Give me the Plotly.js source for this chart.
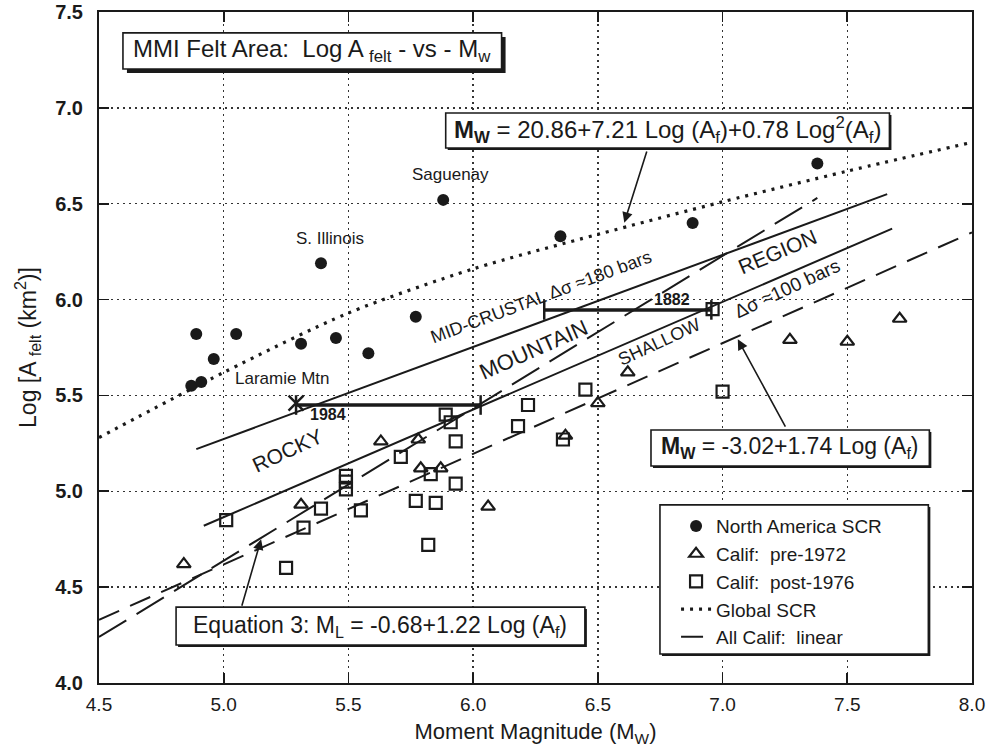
<!DOCTYPE html>
<html>
<head>
<meta charset="utf-8">
<script src="https://cdn.plot.ly/plotly-3.0.1.min.js"></script>
<style>
  html, body { margin: 0; padding: 0; background: #fff; }
  #chart { width: 989px; height: 748px; }
</style>
</head>
<body>
<div id="chart"></div>
<script>
// ---- Felt-area observations (Mw vs Log A_felt, km^2) ----
const naScrMw   = [4.87, 4.91, 4.89, 4.96, 5.05, 5.31, 5.39, 5.45, 5.58, 5.77, 5.88, 6.35, 6.88, 7.38];
const naScrLogA = [5.55, 5.57, 5.82, 5.69, 5.82, 5.77, 6.19, 5.80, 5.72, 5.91, 6.52, 6.33, 6.40, 6.71];

const califPreMw   = [4.84, 5.31, 5.63, 5.78, 5.79, 5.87, 6.06, 6.37, 6.50, 6.62, 7.27, 7.50, 7.71];
const califPreLogA = [4.62, 4.93, 5.26, 5.27, 5.12, 5.12, 4.92, 5.29, 5.46, 5.62, 5.79, 5.78, 5.90];

const califPostMw   = [5.01, 5.25, 5.32, 5.39, 5.49, 5.49, 5.49, 5.55, 5.71, 5.77, 5.82, 5.83, 5.85,
                       5.89, 5.91, 5.93, 5.93, 6.18, 6.22, 6.36, 6.45, 6.96, 7.00];
const califPostLogA = [4.85, 4.60, 4.81, 4.91, 5.08, 5.05, 5.01, 4.90, 5.18, 4.95, 4.72, 5.09, 4.94,
                       5.40, 5.36, 5.26, 5.04, 5.34, 5.45, 5.27, 5.53, 5.95, 5.52];

// ---- Regression curves ----
const globalScrMw   = [4.5, 5.0, 5.5, 6.0, 6.5, 7.0, 7.5, 8.0];
const globalScrLogA = [5.28, 5.62, 5.93, 6.16, 6.34, 6.51, 6.67, 6.82];

const allCalifMw   = [4.5, 8.0];
const allCalifLogA = [4.33, 6.35];

const eq3Mw   = [4.5, 7.38];
const eq3LogA = [4.24, 6.53];

// ---- Stress-drop lines for the Rocky Mountain region ----
const midCrustalMw   = [4.89, 7.66];
const midCrustalLogA = [5.22, 6.55];
const shallowMw   = [4.92, 7.68];
const shallowLogA = [4.82, 6.37];

// ---- Felt-area ranges of historical events ----
const laramieMw   = [5.29, 6.03];
const laramieLogA = [5.45, 5.45];
const laramieX    = [5.29];
const laramieXLogA = [5.46];
const event1882Mw   = [6.285, 6.955];
const event1882LogA = [5.946, 5.946];

const FONT = 'Liberation Sans, Arial, Helvetica, sans-serif';
const INK = '#1a1a1a';

const traces = [
  { x: globalScrMw, y: globalScrLogA, mode: 'lines', name: 'Global SCR',
    line: { color: INK, width: 3.2, dash: '3px,6px', shape: 'spline', smoothing: 0.8 },
    legendgroup: 'g4', legendrank: 4 },
  { x: allCalifMw, y: allCalifLogA, mode: 'lines', name: 'All Calif:&nbsp; linear',
    line: { color: INK, width: 2, dash: '22px,12px' },
    legendgroup: 'g5', legendrank: 5 },
  { x: eq3Mw, y: eq3LogA, mode: 'lines', showlegend: false,
    line: { color: INK, width: 2, dash: '32px,12px' } },
  { x: midCrustalMw, y: midCrustalLogA, mode: 'lines', showlegend: false,
    line: { color: INK, width: 2 } },
  { x: shallowMw, y: shallowLogA, mode: 'lines', showlegend: false,
    line: { color: INK, width: 2 } },
  { x: laramieMw, y: laramieLogA, mode: 'lines+markers', showlegend: false,
    line: { color: INK, width: 3.5 },
    marker: { symbol: 'line-ns-open', size: 14, color: INK, line: { color: INK, width: 2.5 } } },
  { x: laramieX, y: laramieXLogA, mode: 'markers', showlegend: false,
    marker: { symbol: 'x-thin-open', size: 15, color: INK, line: { color: INK, width: 2.5 } } },
  { x: event1882Mw, y: event1882LogA, mode: 'lines+markers', showlegend: false,
    line: { color: INK, width: 3.5 },
    marker: { symbol: 'line-ns-open', size: 14, color: INK, line: { color: INK, width: 2.5 } } },
  { x: naScrMw, y: naScrLogA, mode: 'markers', name: 'North America SCR',
    marker: { symbol: 'circle', size: 12, color: INK },
    legendgroup: 'g1', legendrank: 1 },
  { x: califPreMw, y: califPreLogA, mode: 'markers', name: 'Calif:&nbsp; pre-1972',
    marker: { symbol: 'triangle-up-open', size: 12, color: INK, line: { color: INK, width: 2.2 } },
    legendgroup: 'g2', legendrank: 2 },
  { x: califPostMw, y: califPostLogA, mode: 'markers', name: 'Calif:&nbsp; post-1976',
    marker: { symbol: 'square-open', size: 12, color: INK, line: { color: INK, width: 2.2 } },
    legendgroup: 'g3', legendrank: 3 }
];

// framed boxes with a drop shadow; shadow given in px
function boxShapes(x0, x1, y0, y1, shadow) {
  const dx = shadow / 249, dy = shadow / 191.7;
  return [
    { type: 'rect', xref: 'x', yref: 'y', layer: 'above', x0: x0 + dx, x1: x1 + dx, y0: y0 - dy, y1: y1 - dy,
      fillcolor: INK, line: { width: 0 } },
    { type: 'rect', xref: 'x', yref: 'y', layer: 'above', x0: x0, x1: x1, y0: y0, y1: y1,
      fillcolor: '#fff', line: { color: INK, width: 1.6 } }
  ];
}

const shapes = [].concat(
  boxShapes(4.596, 6.114, 7.203, 7.391, 4),
  boxShapes(5.890, 7.669, 6.791, 6.973, 2),
  boxShapes(6.713, 7.829, 5.132, 5.320, 2),
  boxShapes(4.809, 6.448, 4.198, 4.396, 2),
  boxShapes(6.749, 7.825, 4.151, 4.929, 2)
);

function label(x, y, text, size, extra) {
  return Object.assign({ x: x, y: y, xref: 'x', yref: 'y', text: text, showarrow: false,
    font: { family: FONT, size: size, color: INK } }, extra || {});
}
function arrow(x, y, ax, ay) {
  return { x: x, y: y, ax: ax, ay: ay, xref: 'x', yref: 'y', axref: 'x', ayref: 'y', text: '',
    showarrow: true, arrowhead: 2, arrowsize: 1.3, arrowwidth: 1.6, arrowcolor: INK, standoff: 0 };
}

const annotations = [
  label(5.91, 6.655, 'Saguenay', 17),
  label(5.426, 6.316, 'S. Illinois', 17),
  label(5.232, 5.586, 'Laramie Mtn', 17),
  label(5.42, 5.398, '<b>1984</b>', 16),
  label(6.796, 5.998, '<b>1882</b>', 16),
  label(5.254, 5.215, 'ROCKY', 21, { textangle: -25 }),
  label(6.244, 5.737, 'MOUNTAIN', 22, { textangle: -24 }),
  label(7.222, 6.25, 'REGION', 21, { textangle: -23 }),
  label(6.271, 6.015, 'MID-CRUSTAL Δσ ≈180 bars', 18, { textangle: -20.5 }),
  label(6.746, 5.78, 'SHALLOW', 18, { textangle: -25 }),
  label(7.258, 6.059, 'Δσ ≈100 bars', 19, { textangle: -25 }),
  label(5.353, 7.297, 'MMI Felt Area:&nbsp; Log A <sub>felt</sub> - vs - M<sub>w</sub>', 24),
  label(6.779, 6.882, '<b>M<sub>W</sub></b> = 20.86+7.21 Log (A<sub>f</sub>)+0.78 Log<sup>2</sup>(A<sub>f</sub>)', 24),
  label(7.271, 5.226, '<b>M<sub>W</sub></b> = -3.02+1.74 Log (A<sub>f</sub>)', 23),
  label(5.627, 4.297, 'Equation 3: M<sub>L</sub> = -0.68+1.22 Log (A<sub>f</sub>)', 23),
  arrow(6.606, 6.401, 6.698, 6.78),
  arrow(7.061, 5.793, 7.255, 5.329),
  arrow(5.150, 4.750, 5.071, 4.395)
];

const axisCommon = {
  showline: true, linecolor: INK, linewidth: 2, mirror: 'ticks',
  ticks: 'inside', ticklen: 10, tickwidth: 1.6, tickcolor: INK,
  showgrid: true, gridcolor: '#333', gridwidth: 1.4, griddash: '2px,4px',
  zeroline: false, dtick: 0.5, tickformat: '.1f'
};

const layout = {
  width: 989, height: 748,
  margin: { l: 99, r: 17, t: 12, b: 65 },
  paper_bgcolor: '#fff', plot_bgcolor: '#fff',
  font: { family: FONT, color: INK },
  xaxis: Object.assign({}, axisCommon, {
    range: [4.5, 8.0], tick0: 4.5,
    tickfont: { size: 19, color: INK },
    ticklabelstandoff: 3,
    title: { text: 'Moment Magnitude (M<sub>W</sub>)', font: { size: 22, color: INK }, standoff: 10 }
  }),
  yaxis: Object.assign({}, axisCommon, {
    range: [4.0, 7.5], tick0: 4.0,
    tickfont: { size: 20, color: INK, weight: 'bold' },
    ticklabelstandoff: 10,
    title: { text: 'Log [A <sub>felt</sub> (km<sup>2</sup>)]', font: { size: 23, color: INK }, standoff: 12 }
  }),
  showlegend: true,
  legend: {
    x: 0.661, y: 0.262, xanchor: 'left', yanchor: 'top',
    bgcolor: 'rgba(0,0,0,0)', borderwidth: 0,
    font: { family: FONT, size: 19, color: INK },
    tracegroupgap: 0, itemwidth: 30
  },
  shapes: shapes,
  annotations: annotations
};

Plotly.newPlot('chart', traces, layout, { staticPlot: true, displayModeBar: false });
</script>
</body>
</html>
